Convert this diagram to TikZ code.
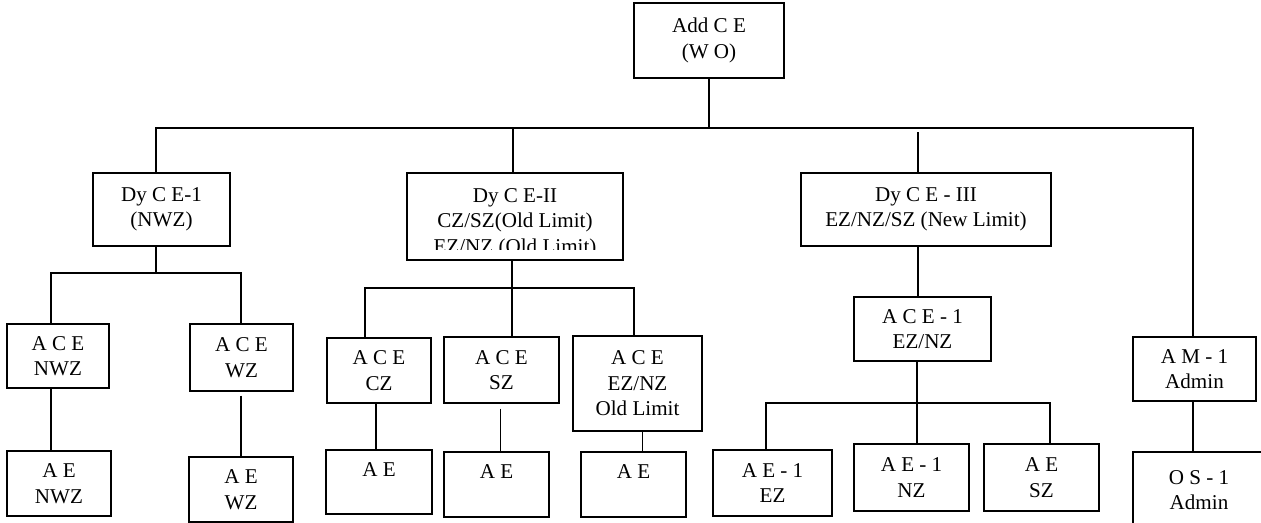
\documentclass[tikz,border=0pt]{standalone}
\usepackage{fontspec}
\setmainfont{Liberation Serif}
\usetikzlibrary{calc}
\tikzset{
  orgbox/.style 2 args={draw,line width=0.8pt,minimum width=#1*0.02cm,minimum height=#2*0.02cm,inner sep=0pt,align=center},
  link/.style={line width=0.8pt}
}

\begin{document}
\begin{tikzpicture}[x=0.02cm,y=-0.02cm,font=\fontsize{12}{14.5}\selectfont]
  \useasboundingbox (0,0) rectangle (1261,522);
  % boxes
  \node[orgbox={150}{75}] (ace) at (709,40.5) {Add C E\\(W O)};
  \node[orgbox={137}{73}] (dy1) at (161.5,209.5) {Dy C E-1\\(NWZ)};
  \node[orgbox={216}{87}] (dy2) at (515,216.5) {};
  \begin{scope}
    \clip (dy2.north west) rectangle ([yshift=0.22cm]dy2.south east);
    \node[align=center] (dy2txt) at (515,223) {Dy C E-II\\CZ/SZ(Old Limit)\\EZ/NZ (Old Limit)};
  \end{scope}
  \node[orgbox={250}{73}] (dy3) at (926,209.5) {Dy C E - III\\EZ/NZ/SZ (New Limit)};
  \node[orgbox={102}{64}] (aceNWZ) at (58,356) {A C E\\NWZ};
  \node[orgbox={103}{67}] (aceWZ) at (241.5,357.5) {A C E\\WZ};
  \node[orgbox={104}{65}] (aeNWZ) at (59,483.5) {A E\\NWZ};
  \node[orgbox={104}{65}] (aeWZ) at (241,489.5) {A E\\WZ};
  \node[orgbox={104}{65}] (aceCZ) at (379,370.5) {A C E\\CZ};
  \node[orgbox={115}{66}] (aceSZ) at (501.5,370) {A C E\\SZ};
  \node[orgbox={129}{95}] (aceENZ) at (637.5,383.5) {A C E\\EZ/NZ\\Old Limit};
  \node[orgbox={106}{64}] (aeCZ) at (379,482) {A E\\\mbox{}};
  \node[orgbox={105}{65}] (aeSZ) at (496.5,484.5) {A E\\\mbox{}};
  \node[orgbox={105}{65}] (aeENZ) at (633.5,484.5) {A E\\\mbox{}};
  \node[orgbox={137}{64}] (ace1) at (922.5,329) {A C E - 1\\EZ/NZ};
  \node[orgbox={119}{66}] (ae1EZ) at (772.5,483) {A E - 1\\EZ};
  \node[orgbox={115}{67}] (ae1NZ) at (911.5,477.5) {A E - 1\\NZ};
  \node[orgbox={115}{67}] (aeSZ3) at (1041.5,477.5) {A E\\SZ};
  \node[orgbox={123}{64}] (am1) at (1194.5,369) {A M - 1\\Admin};
  \node[orgbox={132}{76}] (os1) at (1199,490) {O S - 1\\Admin};
  % top level bus
  \coordinate (topL) at (156,128);
  \coordinate (topR) at (1193,128);
  \coordinate (top2) at (513,128);
  \coordinate (top3) at (918,132);
  \draw[link] (ace.south) -- (ace.south |- topL);
  \draw[link] (topL |- dy1.north) -- (topL) -- (topR) -- (topR |- am1.north);
  \draw[link] (top2) -- (top2 |- dy2.north);
  \draw[link] (top3) -- (top3 |- dy3.north);
  % Dy C E-1
  \coordinate (b1L) at (51,273);
  \coordinate (b1R) at (241,273);
  \draw[link] (dy1.south -| topL) -- (topL |- b1L);
  \draw[link] (b1L |- aceNWZ.north) -- (b1L) -- (b1R) -- (b1R |- aceWZ.north);
  \draw[link] (aceNWZ.south -| b1L) -- (b1L |- aeNWZ.north);
  \draw[link] ($(aceWZ.south -| b1R)+(0,4)$) -- (b1R |- aeWZ.north);
  % Dy C E-II
  \coordinate (b2L) at (365,288);
  \coordinate (b2M) at (512,288);
  \coordinate (b2R) at (634,288);
  \draw[link] (dy2.south -| b2M) -- (b2M) -- (b2M |- aceSZ.north);
  \draw[link] (b2L |- aceCZ.north) -- (b2L) -- (b2R) -- (b2R |- aceENZ.north);
  \draw[link] ($(aceCZ.south)+(-3,0)$) -- ($(aceCZ.south |- aeCZ.north)+(-3,0)$);
  \draw[link] ($(aceSZ.south)+(-1,5)$) -- ($(aceSZ.south |- aeSZ.north)+(-1,0)$);
  \draw[link] ($(aceENZ.south)+(5,0)$) -- ($(aceENZ.south |- aeENZ.north)+(5,0)$);
  % Dy C E-III
  \coordinate (b3L) at (766,403);
  \coordinate (b3M) at (917,403);
  \coordinate (b3R) at (1050,403);
  \draw[link] (dy3.south -| top3) -- (top3 |- ace1.north);
  \draw[link] (ace1.south -| b3M) -- (b3M |- ae1NZ.north);
  \draw[link] (b3L |- ae1EZ.north) -- (b3L) -- (b3R) -- (b3R |- aeSZ3.north);
  % A M - 1
  \draw[link] (am1.south -| topR) -- (topR |- os1.north);
\end{tikzpicture}
\end{document}
